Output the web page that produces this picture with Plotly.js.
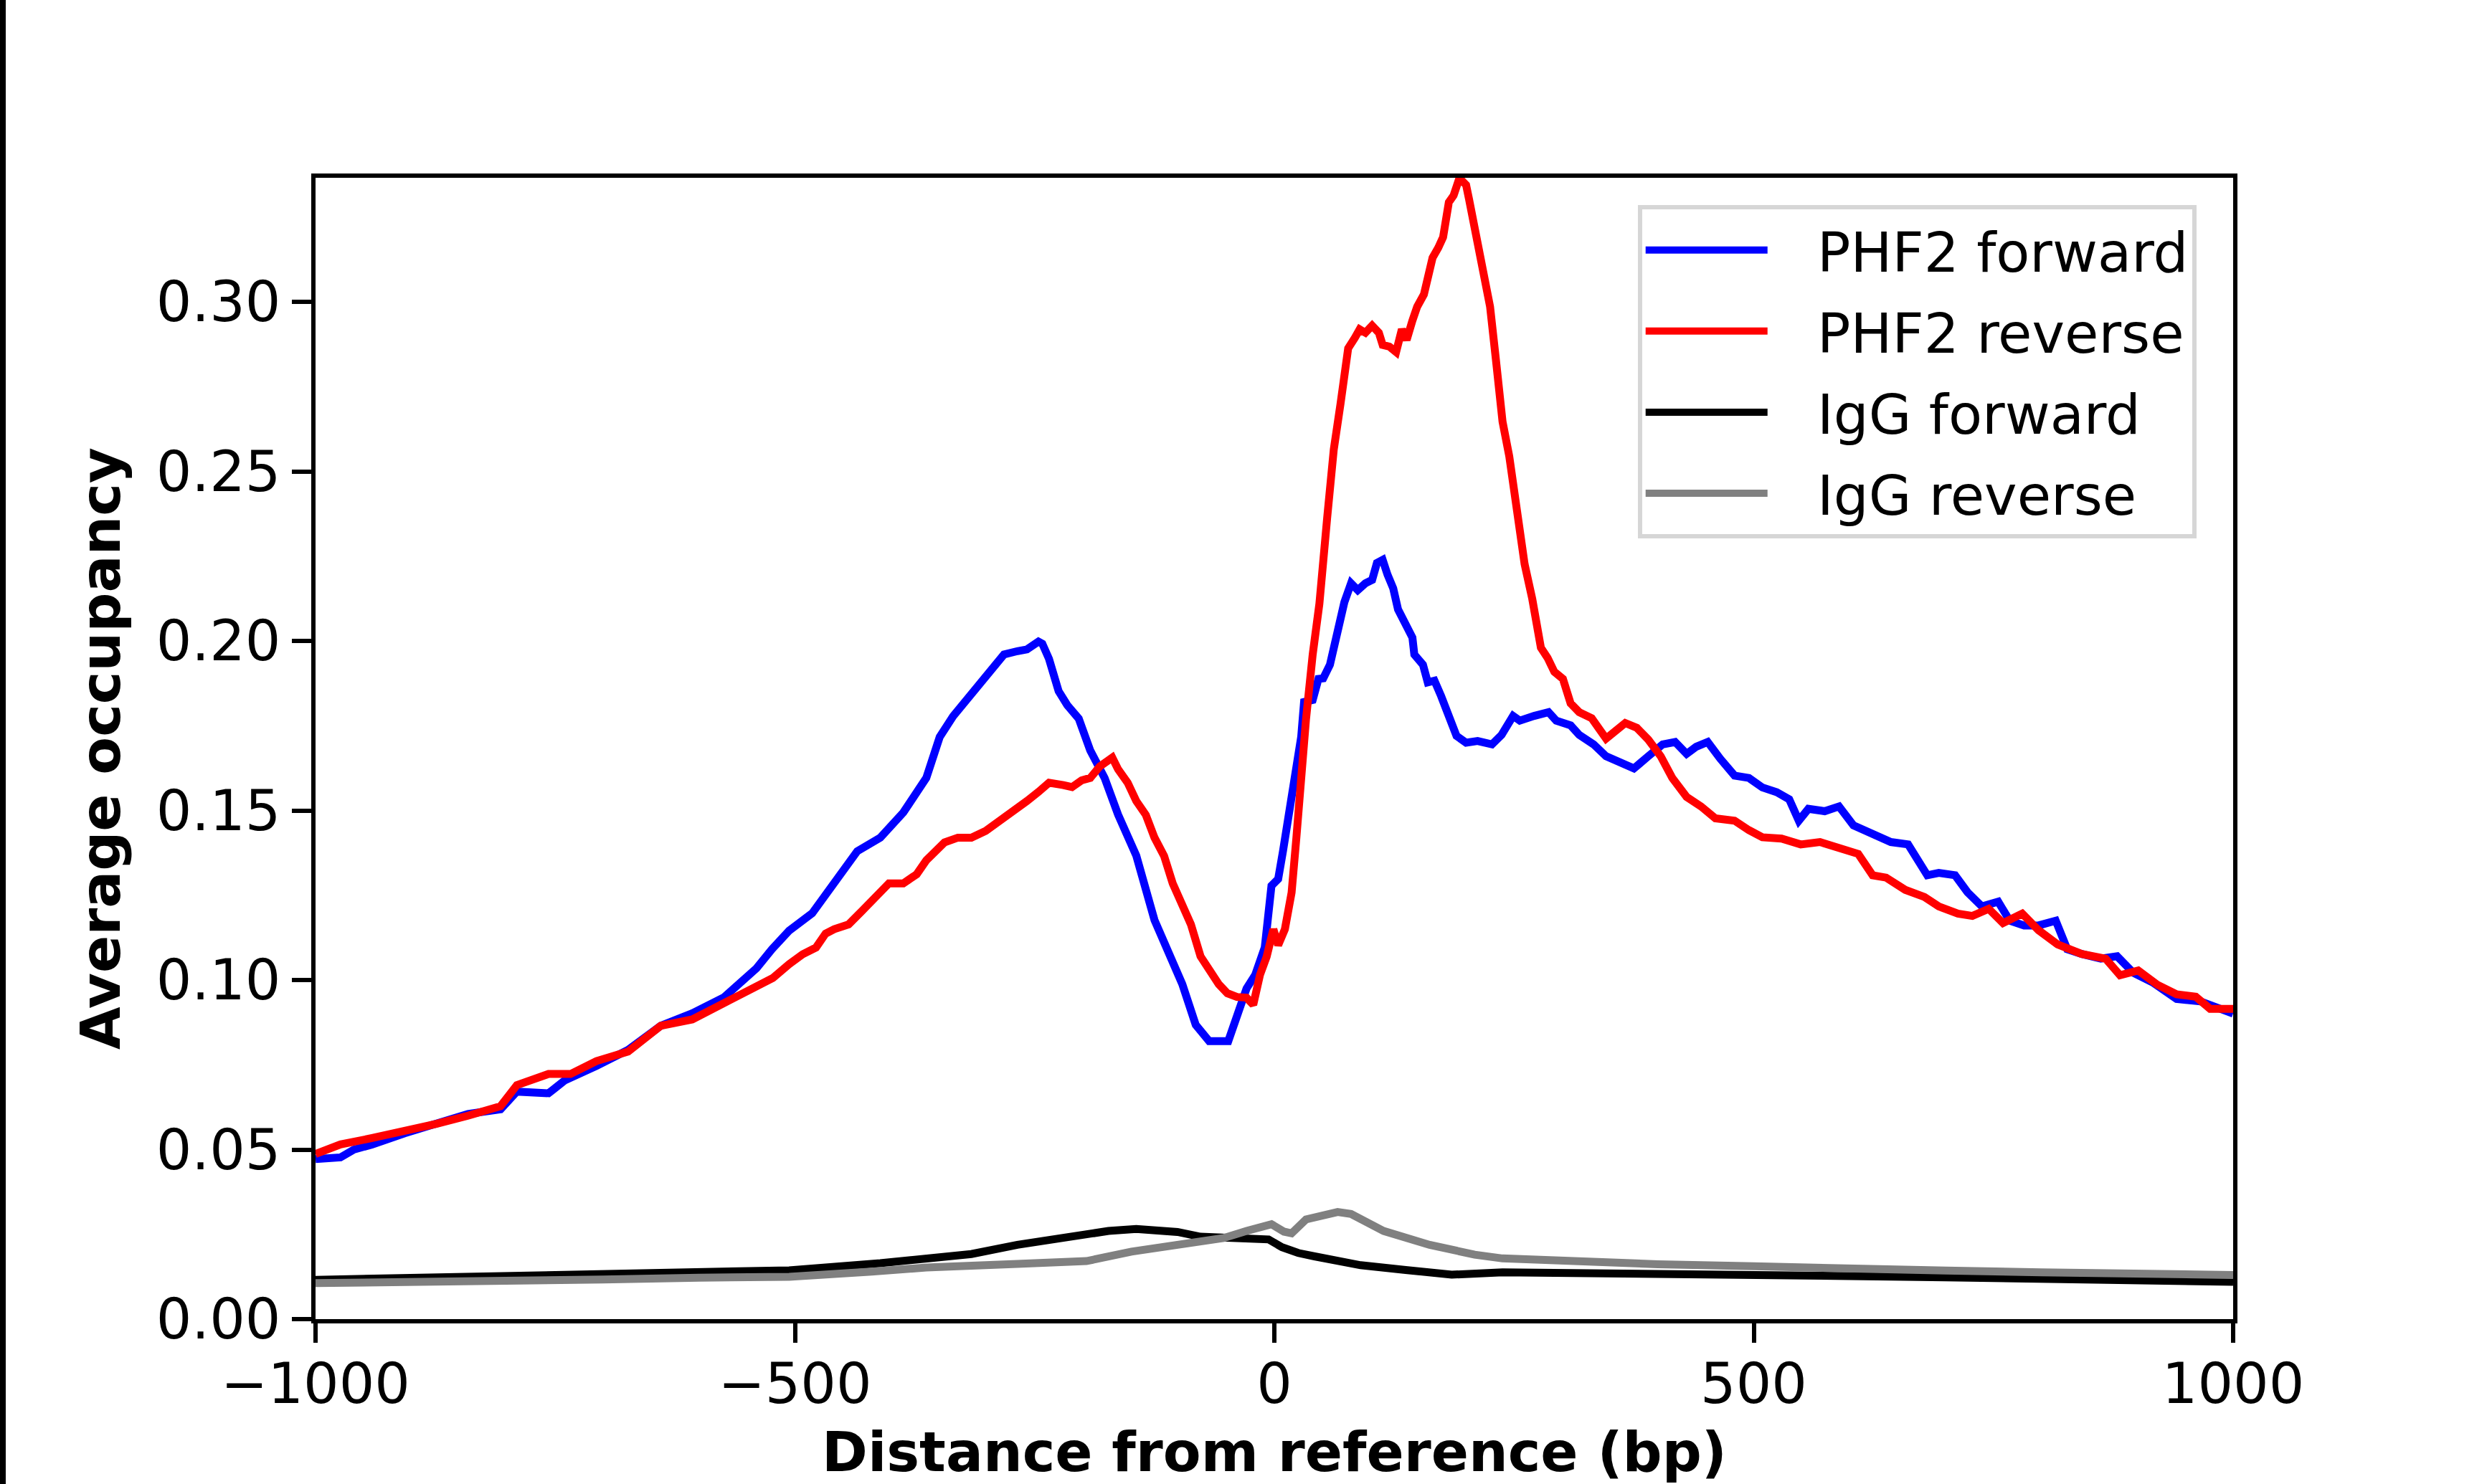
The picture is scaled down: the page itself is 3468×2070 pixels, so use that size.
<!DOCTYPE html>
<html>
<head>
<meta charset="utf-8">
<script src="https://cdn.plot.ly/plotly-3.0.1.min.js"></script>
<style>
  html, body { margin: 0; padding: 0; background: #fff; }
  #plot { width: 3468px; height: 2070px; }
</style>
</head>
<body>
<div id="plot"></div>
<script>
// PHF2 forward (blue)
const phfFwdX = [-1000, -974, -960, -941, -907, -874, -841, -807, -790, -757, -740, -707, -674, -640, -607, -574, -540, -524, -506,
  -482, -459, -435, -411, -387, -363, -349, -335, -316, -306, -297, -282, -268, -258, -246, -242, -235, -225, -216, -204, -192,
  -177, -163, -144, -125, -111, -96, -82, -68, -48, -39, -29, -20, -10, -3, 4, 9, 18, 28, 31, 40, 46, 51, 58, 64, 69, 73, 80, 87,
  95, 102, 107, 113, 118, 124, 129, 138, 144, 146, 155, 160, 167, 174, 182, 190, 200, 212, 227, 237, 249, 256, 271, 286, 294,
  309, 318, 333, 346, 361, 375, 390, 405, 418, 430, 440, 452, 465, 480, 495, 509, 524, 537, 547, 557, 574, 589, 604, 624, 643,
  661, 671, 681, 693, 710, 723, 738, 755, 767, 782, 797, 815, 827, 842, 862, 879, 896, 916, 941, 966, 981, 1000];
const phfFwdY = [0.0472, 0.0477, 0.0500, 0.0515, 0.0548, 0.0576, 0.0605, 0.0619, 0.0671, 0.0666, 0.0704, 0.0747, 0.0794, 0.0865,
  0.0902, 0.0949, 0.1035, 0.1091, 0.1146, 0.1197, 0.1285, 0.1380, 0.1420, 0.1494, 0.1596, 0.1717, 0.1778, 0.1845, 0.1879,
  0.1906, 0.1960, 0.1970, 0.1975, 0.1998, 0.1992, 0.1947, 0.1852, 0.1811, 0.1771, 0.1677, 0.1596, 0.1488, 0.1367, 0.1177,
  0.1083, 0.0988, 0.0868, 0.0820, 0.0820, 0.0895, 0.0975, 0.1015, 0.1096, 0.1278, 0.1298, 0.1380, 0.1555, 0.1717, 0.1820,
  0.1826, 0.1888, 0.1890, 0.1930, 0.2010, 0.2050, 0.2114, 0.2170, 0.2150, 0.2170, 0.2180, 0.2230, 0.2239, 0.2196, 0.2155,
  0.2093, 0.2042, 0.2010, 0.1960, 0.1930, 0.1878, 0.1883, 0.1837, 0.1777, 0.1720, 0.1700, 0.1705, 0.1695, 0.1723, 0.1779,
  0.1765, 0.1779, 0.1790, 0.1765, 0.1751, 0.1723, 0.1695, 0.1660, 0.1639, 0.1624, 0.1660, 0.1695, 0.1702, 0.1667, 0.1688,
  0.1702, 0.1653, 0.1603, 0.1596, 0.1568, 0.1554, 0.1533, 0.1470, 0.1505, 0.1498, 0.1512, 0.1456, 0.1428, 0.1407, 0.1400,
  0.1351, 0.1309, 0.1316, 0.1309, 0.1259, 0.1217, 0.1231, 0.1175, 0.1161, 0.1161, 0.1175, 0.1091, 0.1077, 0.1063, 0.1070,
  0.1021, 0.0993, 0.0944, 0.0937, 0.0923, 0.0901];

// PHF2 reverse (red)
const phfRevX = [-1000, -974, -941, -907, -874, -841, -807, -790, -757, -734, -707, -674, -640, -607, -574, -540, -523, -506,
  -492, -478, -468, -459, -444, -430, -416, -402, -387, -373, -363, -344, -330, -316, -301, -287, -273, -258, -246, -235, -220,
  -211, -201, -192, -182, -173, -169, -163, -153, -144, -134, -125, -115, -106, -96, -87, -77, -68, -58, -49, -39, -29, -22,
  -15, -8, -1, 4, 11, 18, 23, 28, 33, 40, 47, 55, 62, 69, 73, 77, 84, 89, 95, 102, 109, 113, 120, 127, 133, 138, 144, 149, 156,
  160, 165, 171, 176, 182, 187, 193, 200, 203, 207, 211, 218, 225, 231, 238, 245, 252, 261, 269, 278, 285, 292, 301, 309, 318,
  331, 346, 358, 366, 378, 390, 403, 415, 430, 445, 460, 480, 495, 509, 529, 549, 569, 594, 609, 624, 638, 658, 678, 693, 713,
  728, 745, 760, 780, 797, 817, 842, 867, 882, 901, 921, 941, 961, 976, 1000];
const phfRevY = [0.0487, 0.0515, 0.0534, 0.0553, 0.0576, 0.0600, 0.0628, 0.0690, 0.0723, 0.0723, 0.0761, 0.0789, 0.0865,
  0.0884, 0.0931, 0.0983, 0.1006, 0.1047, 0.1076, 0.1096, 0.1137, 0.1150, 0.1164, 0.1204, 0.1245, 0.1285, 0.1285, 0.1312,
  0.1353, 0.1406, 0.1420, 0.1420, 0.1440, 0.1467, 0.1501, 0.1528, 0.1555, 0.1582, 0.1575, 0.1569, 0.1589, 0.1596, 0.1630,
  0.1650, 0.1656, 0.1622, 0.1582, 0.1528, 0.1487, 0.1420, 0.1366, 0.1285, 0.1218, 0.1164, 0.1070, 0.1029, 0.0988, 0.0961,
  0.0950, 0.0948, 0.0927, 0.1015, 0.1069, 0.1150, 0.1103, 0.1150, 0.1258, 0.1420, 0.1622, 0.1768, 0.1960, 0.2110, 0.2360,
  0.2565, 0.2699, 0.2801, 0.2863, 0.2894, 0.2919, 0.2909, 0.2930, 0.2909, 0.2873, 0.2868, 0.2852, 0.2919, 0.2888, 0.2945,
  0.2986, 0.3022, 0.3078, 0.3130, 0.3160, 0.3191, 0.3294, 0.3314, 0.3365, 0.3345, 0.3304, 0.3242, 0.3212, 0.3078, 0.2986,
  0.2832, 0.2647, 0.2545, 0.2401, 0.2227, 0.2124, 0.1980, 0.1950, 0.1909, 0.1888, 0.1816, 0.1790, 0.1772, 0.1712, 0.1744,
  0.1758, 0.1744, 0.1709, 0.1660, 0.1596, 0.1540, 0.1512, 0.1477, 0.1470, 0.1442, 0.1421, 0.1417, 0.1400, 0.1407, 0.1386,
  0.1372, 0.1309, 0.1302, 0.1266, 0.1245, 0.1217, 0.1196, 0.1189, 0.1210, 0.1168, 0.1196, 0.1147, 0.1105, 0.1077, 0.1063,
  0.1014, 0.1028, 0.0986, 0.0958, 0.0951, 0.0915, 0.0915];

// IgG forward (black)
const iggFwdX = [-1000, -900, -800, -700, -600, -506, -411, -316, -268, -220, -173, -144, -101, -77, -50, -29, -6, 8, 25, 42,
  65, 90, 137, 185, 238, 300, 400, 500, 600, 700, 800, 900, 1000];
const iggFwdY = [0.0116, 0.0122, 0.0128, 0.0133, 0.0139, 0.0144, 0.0165, 0.0192, 0.0219, 0.0239, 0.0260, 0.0266, 0.0257,
  0.0243, 0.0240, 0.0239, 0.0235, 0.0212, 0.0195, 0.0185, 0.0170, 0.0159, 0.0145, 0.0131, 0.0138, 0.0137, 0.0134, 0.0131,
  0.0127, 0.0123, 0.0117, 0.0112, 0.0110];

// IgG reverse (grey)
const iggRevX = [-1000, -900, -800, -700, -600, -506, -420, -363, -268, -196, -149, -101, -53, -29, -3, 10, 18, 33, 50, 66, 80,
  90, 114, 162, 209, 238, 300, 350, 400, 500, 600, 700, 800, 900, 1000];
const iggRevY = [0.0106, 0.0108, 0.0113, 0.0117, 0.0122, 0.0125, 0.0140, 0.0152, 0.0163, 0.0171, 0.0199, 0.0219, 0.0239,
  0.0260, 0.0280, 0.0258, 0.0253, 0.0294, 0.0305, 0.0316, 0.0310, 0.0294, 0.0260, 0.0219, 0.0190, 0.0179, 0.0172, 0.0167,
  0.0162, 0.0156, 0.0147, 0.0143, 0.0138, 0.0133, 0.0130];

const seriesNames = ['PHF2 forward', 'PHF2 reverse', 'IgG forward', 'IgG reverse'];
const seriesColors = ['#0000ff', '#ff0000', '#000000', '#808080'];
const xTicks = [-1000, -500, 0, 500, 1000];
const yTicks = [0, 0.05, 0.10, 0.15, 0.20, 0.25, 0.30];

const xs = [phfFwdX, phfRevX, iggFwdX, iggRevX];
const ys = [phfFwdY, phfRevY, iggFwdY, iggRevY];

const FONT = 'DejaVu Sans, sans-serif';
// a little space between the legend line and its label, like matplotlib
const GAP = '\u00a0\u00a0\u2009';
const traces = seriesNames.map((name, i) => ({
  x: xs[i], y: ys[i], name: GAP + name, type: 'scatter', mode: 'lines',
  line: {color: seriesColors[i], width: 11},
  legendgroup: 'g' + i
}));

const W = 3468, H = 2070;
const mL = 440, mR = 354, mT = 248, mB = 230;
const pw = W - mL - mR, ph = H - mT - mB;

const axisCommon = {
  showline: true, mirror: true, linecolor: '#000', linewidth: 6,
  ticks: 'outside', ticklen: 27, tickwidth: 6, tickcolor: '#000',
  showgrid: false, zeroline: false,
  tickfont: {family: FONT, size: 78, color: '#000'}
};

const layout = {
  width: W, height: H,
  margin: {l: mL, r: mR, t: mT, b: mB, pad: 0},
  paper_bgcolor: '#fff', plot_bgcolor: '#fff',
  font: {family: FONT, color: '#000'},
  showlegend: true,
  xaxis: Object.assign({}, axisCommon, {
    range: [-1000, 1000], tickvals: xTicks, ticktext: xTicks.map(v => v < 0 ? '\u2212' + Math.abs(v) : String(v)),
    ticklabelstandoff: -10,
    title: {text: '<b>Distance from reference (bp)</b>', font: {family: FONT, size: 77}, standoff: 36}
  }),
  yaxis: Object.assign({}, axisCommon, {
    range: [0, 0.3366], tickvals: yTicks, ticktext: yTicks.map(v => v.toFixed(2)),
    title: {text: '<b>Average occupancy</b>', font: {family: FONT, size: 77}, standoff: 27}
  }),
  legend: {
    x: 0.6895, y: 0.976, xanchor: 'left', yanchor: 'top',
    bgcolor: 'rgba(255,255,255,0.8)', bordercolor: '#d6d6d6', borderwidth: 6,
    font: {family: FONT, size: 77, color: '#000'},
    itemwidth: 170, tracegroupgap: 10, traceorder: 'grouped'
  },
  shapes: [{
    type: 'rect', xref: 'paper', yref: 'paper',
    x0: -mL / pw, x1: (8 - mL) / pw, y0: -mB / ph, y1: 1 + mT / ph,
    fillcolor: '#000', line: {width: 0}, layer: 'above'
  }]
};

Plotly.newPlot('plot', traces, layout, {displayModeBar: false, staticPlot: true});
</script>
</body>
</html>
